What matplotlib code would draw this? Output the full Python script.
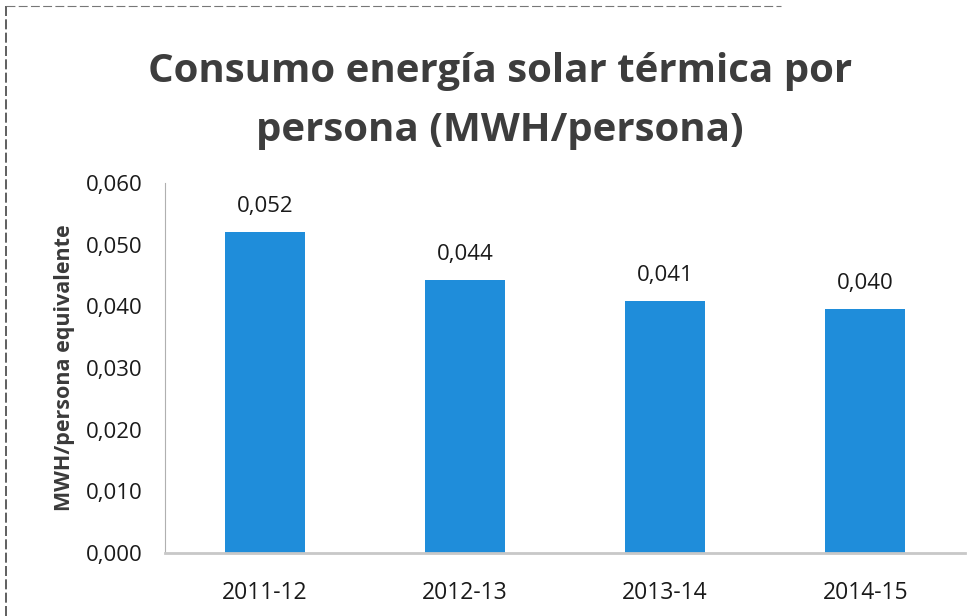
import matplotlib
matplotlib.use('Agg')
import matplotlib.pyplot as plt
from matplotlib.lines import Line2D
from matplotlib.ticker import FuncFormatter

# 数据
periodos = ['2011-12', '2012-13', '2013-14', '2014-15']
consumo = [0.052, 0.0442, 0.0409, 0.0396]
etiquetas = ['0,052', '0,044', '0,041', '0,040']
yticks = [0.0, 0.01, 0.02, 0.03, 0.04, 0.05, 0.06]

plt.rcParams['font.family'] = ['Open Sans', 'DejaVu Sans']

fig = plt.figure(figsize=(9.76, 6.16), dpi=100)
ax = fig.add_axes([0.169, 0.102, 0.820, 0.601])

x = range(len(periodos))
bars = ax.bar(x, consumo, width=0.4, color='#1F8DDA')

# 柱子上方显示数值
for bar, txt in zip(bars, etiquetas):
    ax.annotate(txt, xy=(bar.get_x() + bar.get_width() / 2, bar.get_height()),
                xytext=(0, 11), textcoords='offset points',
                ha='center', va='bottom', fontsize=16, color='#1a1a1a')

ax.set_xlim(-0.5, 3.5)
ax.set_ylim(0, 0.06)
ax.set_xticks(list(x))
ax.set_xticklabels(periodos, fontsize=16.5, color='#1a1a1a')
ax.set_yticks(yticks)
ax.yaxis.set_major_formatter(FuncFormatter(lambda v, p: f'{v:.3f}'.replace('.', ',')))
ax.tick_params(axis='y', labelsize=16, labelcolor='#1a1a1a', length=0, pad=16)
ax.tick_params(axis='x', length=0, pad=20)

for s in ['top', 'right']:
    ax.spines[s].set_visible(False)
ax.spines['bottom'].set_color('#c8c8c8')
ax.spines['bottom'].set_linewidth(2)
ax.spines['left'].set_color('#b0b0b0')
ax.spines['left'].set_linewidth(0.8)
ax.spines['left'].set_linestyle((0, (2, 1)))

ax.set_ylabel('MWH/persona equivalente', fontsize=15.5, fontweight='bold',
              color='#3a3a3a', labelpad=8)

fig.text(0.512, 0.836, 'Consumo energía solar térmica por\npersona (MWH/persona)',
         ha='center', va='center', fontsize=29, fontweight='bold',
         color='#3d3d3d', linespacing=1.65)

# 扫描边框
fig.add_artist(Line2D([0.006, 0.006], [0.0, 0.99], color='#444444', lw=1.2,
                      linestyle=(0, (6, 2)), transform=fig.transFigure))
fig.add_artist(Line2D([0.006, 0.8], [0.99, 0.99], color='#777777', lw=0.8,
                      linestyle=(0, (8, 3)), transform=fig.transFigure))

fig.savefig('out.png', dpi=100)
